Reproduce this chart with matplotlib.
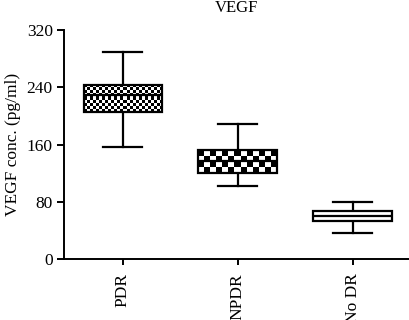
import numpy as np
import matplotlib
matplotlib.use("Agg")
import matplotlib.pyplot as plt

categories = ["PDR", "NPDR", "No DR"]
whislo = [157, 102, 37]
q1 = [205, 120, 54]
med = [230, 137, 60]
q3 = [243, 152, 67]
whishi = [289, 189, 80]
yticks = [0, 80, 160, 240, 320]

plt.rcParams['font.family'] = ['Liberation Serif', 'DejaVu Serif']

fig = plt.figure(figsize=(4.1, 3.2), dpi=100)
ax = fig.add_axes([0.156, 0.19, 0.844, 0.716])

stats = []
for i, c in enumerate(categories):
    stats.append(dict(label=c, whislo=whislo[i], q1=q1[i], med=med[i],
                      q3=q3[i], whishi=whishi[i], fliers=[]))

bp = ax.bxp(stats, positions=[1, 2, 3], widths=0.68, patch_artist=True,
            showfliers=False,
            boxprops=dict(facecolor='white', edgecolor='black', linewidth=1.6),
            medianprops=dict(color='black', linewidth=1.6),
            whiskerprops=dict(color='black', linewidth=1.6),
            capprops=dict(color='black', linewidth=1.6),
            capwidths=0.34)

ax.set_xlim(0.49, 3.5)
ax.set_ylim(0, 320)
ax.set_yticks(yticks)
ax.set_yticklabels([str(t) for t in yticks], fontsize=12.5)
ax.set_xticks([1, 2, 3])
ax.set_xticklabels(categories, rotation=90, fontsize=12.5)
ax.spines['top'].set_visible(False)
ax.spines['right'].set_visible(False)
ax.spines['left'].set_linewidth(1.4)
ax.spines['bottom'].set_linewidth(1.4)
ax.tick_params(axis='y', direction='out', length=5, width=1.4, pad=3)
ax.tick_params(axis='x', direction='out', length=4, width=1.4, pad=6)
ax.set_ylabel("VEGF conc. (pg/ml)", fontsize=12.5, labelpad=4)
ax.set_title("VEGF", fontsize=12, pad=13)

# checkerboard fills
fig.canvas.draw()
cells = [3.0, 6.0, None]
for patch, cell in zip(bp['boxes'], cells):
    if cell is None:
        continue
    bb = patch.get_path().get_extents()
    disp = ax.transData.transform([[bb.x0, bb.y0], [bb.x1, bb.y1]])
    wpx = abs(disp[1, 0] - disp[0, 0])
    hpx = abs(disp[1, 1] - disp[0, 1])
    nc = max(1, int(round(wpx / cell)))
    nr = max(1, int(round(hpx / cell)))
    board = (np.add.outer(np.arange(nr), np.arange(nc)) % 2).astype(float)
    im = ax.imshow(board, cmap='gray', extent=[bb.x0, bb.x1, bb.y0, bb.y1],
                   interpolation='nearest', aspect='auto', zorder=2.1,
                   vmin=0, vmax=1)
    im.set_clip_path(patch)
    patch.set_zorder(2.2)
    patch.set_facecolor('none')

bp['boxes'][2].set_zorder(2.2)
for m in bp['medians']:
    m.set_zorder(2.3)

ax.set_xlim(0.49, 3.5)
ax.set_ylim(0, 320)
fig.savefig("out.png", dpi=100)
